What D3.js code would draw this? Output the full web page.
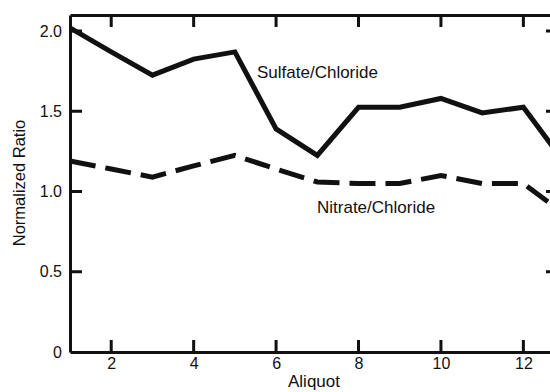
<!DOCTYPE html>
<html><head><meta charset="utf-8">
<script src="https://cdn.jsdelivr.net/npm/d3@7"></script>
<style>body{margin:0;background:#fff}svg{display:block}text{font-family:"Liberation Sans",Arial,sans-serif;fill:#111}</style>
</head><body><svg id="c" width="550" height="392"></svg>
<script>
const aliquot = [1,2,3,4,5,6,7,8,9,10,11,12,13];
const sulfate = [2.02,1.87,1.725,1.825,1.87,1.39,1.225,1.525,1.525,1.58,1.49,1.525,1.18];
const nitrate = [1.19,1.14,1.09,1.16,1.225,1.14,1.06,1.05,1.05,1.1,1.05,1.05,0.86];
const xTicks = [2,4,6,8,10,12];
const yTicks = [0,0.5,1.0,1.5,2.0];
const yTickLabels = ["0","0.5","1.0","1.5","2.0"];
const seriesLabels = ["Sulfate/Chloride","Nitrate/Chloride"];

const svg = d3.select("#c");
const L=70, R=558, T=15, B=352;
const x = d3.scaleLinear().domain([1,12.84]).range([L,R]);
const y = d3.scaleLinear().domain([0,2.1]).range([B,T]);

const g = svg.append("g");
const lineGen = (vals)=>d3.line().x((d,i)=>x(aliquot[i])).y(d=>y(d))(vals);
g.append("path").attr("d",lineGen(sulfate)).attr("fill","none").attr("stroke","#111").attr("stroke-width",5).attr("stroke-linejoin","miter");
g.append("path").attr("d",lineGen(nitrate)).attr("fill","none").attr("stroke","#111").attr("stroke-width",5).attr("stroke-dasharray","26,10");

const axB = d3.axisBottom(x).tickValues(xTicks).tickSizeInner(0).tickSizeOuter(0).tickPadding(6).tickFormat(d3.format("d"));
const axT = d3.axisTop(x).tickValues([]).tickSizeOuter(0);
const axL = d3.axisLeft(y).tickValues(yTicks).tickSizeInner(0).tickSizeOuter(0).tickPadding(8).tickFormat((d,i)=>yTickLabels[i]);
const axR = d3.axisRight(y).tickValues([]).tickSizeOuter(0);
const styleAx = sel=>{sel.select(".domain").attr("stroke","#111").attr("stroke-width",3);
  sel.selectAll(".tick text").attr("font-size",16).attr("fill","#111").attr("font-family","Liberation Sans, Arial, sans-serif");};
svg.append("g").attr("transform",`translate(0,${B})`).call(axB).call(styleAx);
svg.append("g").attr("transform",`translate(0,${T})`).call(axT).call(styleAx);
svg.append("g").attr("transform",`translate(${L},0)`).call(axL).call(styleAx);
svg.append("g").attr("transform",`translate(${R},0)`).call(axR).call(styleAx);

const tl=12;
let dStr="";
xTicks.forEach(v=>{const px=x(v); dStr+=`M${px},${B}V${B-tl}M${px},${T}V${T+tl}`;});
yTicks.slice(1).forEach(v=>{const py=y(v); dStr+=`M${L},${py}H${L+tl}M${R},${py}H${R-tl}`;});
svg.append("path").attr("d",dStr).attr("stroke","#111").attr("stroke-width",3).attr("fill","none");

svg.append("text").attr("x",257).attr("y",78).attr("font-size",17).text(seriesLabels[0]);
svg.append("text").attr("x",317).attr("y",213).attr("font-size",17).text(seriesLabels[1]);
svg.append("text").attr("x",314).attr("y",387).attr("font-size",17).attr("text-anchor","middle").text("Aliquot");
svg.append("text").attr("transform",`translate(25,183) rotate(-90)`).attr("font-size",16.5).attr("text-anchor","middle").text("Normalized Ratio");
</script></body></html>
